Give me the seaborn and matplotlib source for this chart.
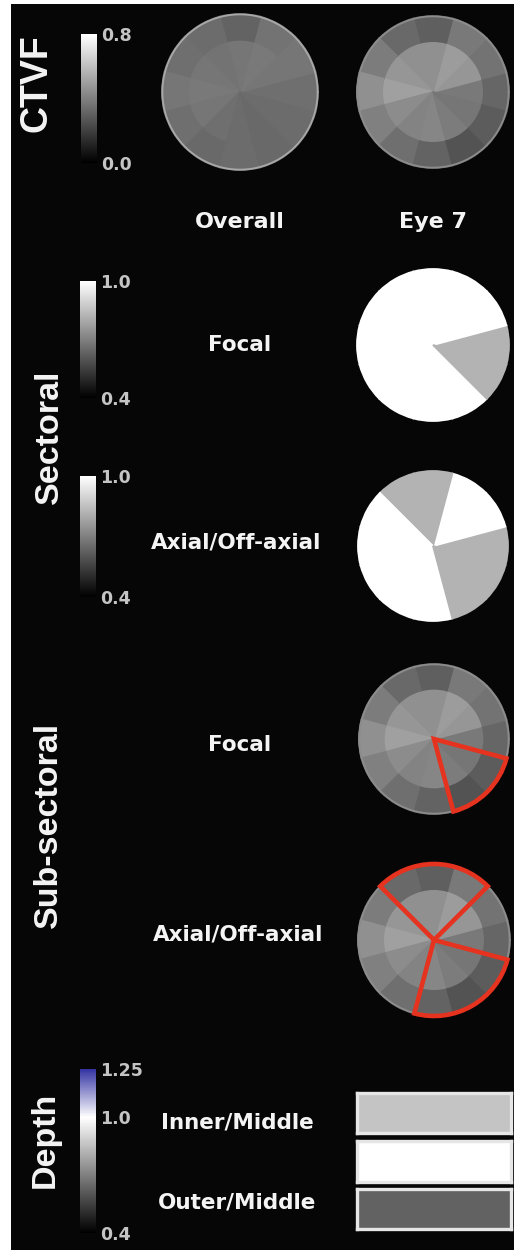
import numpy as np
import matplotlib
matplotlib.use("Agg")
import matplotlib.pyplot as plt
from matplotlib.colors import LinearSegmentedColormap, Normalize
import matplotlib.cm as cm
import seaborn as sns

sns.set_theme(style="white")
plt.rcParams["font.family"] = ["DejaVu Sans"]

# ---------------------------------------------------------------- data
# sector centres in degrees (counter-clockwise, 0 = right)
sector_angles = [0, 30, 60, 90, 120, 150, 180, 210, 240, 270, 300, 330]

# CTVF maps (inner disc / outer ring), one value per sector
overall_inner = [0.35, 0.37, 0.38, 0.37, 0.36, 0.37, 0.38, 0.37, 0.35, 0.34, 0.33, 0.34]
overall_outer = [0.35, 0.37, 0.36, 0.31, 0.34, 0.35, 0.37, 0.35, 0.33, 0.34, 0.33, 0.34]
eye7_inner = [0.38, 0.47, 0.49, 0.45, 0.45, 0.47, 0.50, 0.44, 0.41, 0.42, 0.39, 0.37]
eye7_outer = [0.32, 0.36, 0.38, 0.30, 0.33, 0.39, 0.45, 0.40, 0.35, 0.31, 0.26, 0.29]

# sectoral uniformity indices
sectoral_focal = [0.82, 1.0, 1.0, 1.0, 1.0, 1.0, 1.0, 1.0, 1.0, 1.0, 1.0, 0.82]
sectoral_axial = [0.82, 1.0, 1.0, 0.82, 0.82, 1.0, 1.0, 1.0, 1.0, 1.0, 0.82, 0.82]

# highlighted sub-sector groups (sector centres)
focal_groups = [[300, 330]]
axial_groups = [[60, 90, 120], [270, 300, 330]]

# depth ratios
depth_labels = ["Inner/Middle", "Outer/Middle"]
depth_values = [0.86, 1.0, 0.63]

# ---------------------------------------------------------------- figure
W, H = 514, 1250
fig = plt.figure(figsize=(W / 100, H / 100), dpi=100)
fig.patch.set_facecolor("white")


def box(x, y, w, h):
    return [x / W, 1 - (y + h) / H, w / W, h / H]


def label(x, y, s, **kw):
    fig.text(x / W, 1 - y / H, s, ha="center", va="center", color="#f4f4f4", **kw)


bg = fig.add_axes(box(11, 4, 503, 1246))
bg.set_facecolor("#060606")
bg.set_xticks([])
bg.set_yticks([])
for sp in bg.spines.values():
    sp.set_visible(False)

gray = plt.get_cmap("gray")
ctvf_norm = Normalize(0.0, 0.8)
sect_norm = Normalize(0.4, 1.0)
depth_cmap = LinearSegmentedColormap.from_list(
    "depth", [(0.0, "#000000"), (0.6 / 0.85, "#ffffff"), (1.0, "#3434a4")])

theta = np.deg2rad(sector_angles)
wedge = np.deg2rad(30)
RMAX = 1.08  # radial headroom so outlines at r=1 are not clipped


def polar_axes(cx, cy, r):
    R = r * RMAX
    ax = fig.add_axes(box(cx - R, cy - R, 2 * R, 2 * R), projection="polar")
    ax.set_facecolor("none")
    ax.set_ylim(0, RMAX)
    ax.axis("off")
    return ax


def ring_map(cx, cy, r, inner, outer, rim="#9a9a9a"):
    ax = polar_axes(cx, cy, r)
    ci = gray(ctvf_norm(np.array(inner)))
    co = gray(ctvf_norm(np.array(outer)))
    ax.bar(theta, 0.67, width=wedge, bottom=0, color=ci, edgecolor=ci, linewidth=1.3)
    ax.bar(theta, 0.33, width=wedge, bottom=0.67, color=co, edgecolor=co, linewidth=1.3)
    t = np.linspace(0, 2 * np.pi, 361)
    ax.plot(t, np.full_like(t, 0.995), color=rim, lw=1.3)
    return ax


def pie_map(cx, cy, r, values):
    ax = polar_axes(cx, cy, r)
    c = gray(sect_norm(np.array(values)))
    ax.bar(theta, 1.0, width=wedge, bottom=0, color=c, edgecolor=c, linewidth=1.3)
    return ax


def highlight(ax, groups):
    for g in groups:
        centre = np.deg2rad(np.mean(g))
        ax.bar(centre, 1.0, width=np.deg2rad(30 * len(g)), bottom=0, fill=False,
               edgecolor="#e5331f", linewidth=3.3, joinstyle="miter", zorder=4)


def colorbar(x, y, w, h, cmap, norm, ticks, texts):
    cax = fig.add_axes(box(x, y, w, h))
    cb = fig.colorbar(cm.ScalarMappable(norm=norm, cmap=cmap), cax=cax)
    cb.outline.set_visible(False)
    cb.set_ticks(ticks, labels=texts, fontweight="bold")
    cax.tick_params(length=0, pad=3, labelcolor="#c4c4c4", labelsize=12.5)
    return cb


# ---- CTVF row
label(36, 83, "CTVF", rotation=90, family="Liberation Sans", fontweight="bold", fontsize=27)
colorbar(81, 34, 16, 129, gray, ctvf_norm, [0.0, 0.8], ["0.0", "0.8"])
ring_map(240, 92, 78, overall_inner, overall_outer, rim="#a8a8a8")
ring_map(433, 92, 76, eye7_inner, eye7_outer, rim="#8c8c8c")
label(240, 222, "Overall", fontweight="bold", fontsize=16)
label(433, 222, "Eye 7", fontweight="bold", fontsize=16)

# ---- Sectoral rows
label(49, 437, "Sectoral", rotation=90, family="Liberation Sans", fontweight="bold", fontsize=24.5)
colorbar(80, 281, 16, 117, gray, sect_norm, [0.4, 1.0], ["0.4", "1.0"])
colorbar(80, 476, 16, 121, gray, sect_norm, [0.4, 1.0], ["0.4", "1.0"])
label(240, 345, "Focal", fontweight="bold", fontsize=15.5)
label(236, 543, "Axial/Off-axial", fontweight="bold", fontsize=15.5)
pie_map(433, 345, 76, sectoral_focal)
pie_map(433, 546, 75, sectoral_axial)

# ---- Sub-sectoral rows
label(48, 825, "Sub-sectoral", rotation=90, family="Liberation Sans", fontweight="bold", fontsize=24.5)
label(240, 745, "Focal", fontweight="bold", fontsize=15.5)
label(238, 934, "Axial/Off-axial", fontweight="bold", fontsize=15.5)
ax_f = ring_map(434, 739, 75, eye7_inner, eye7_outer, rim="#8c8c8c")
highlight(ax_f, focal_groups)
ax_a = ring_map(434, 940, 76, eye7_inner, eye7_outer, rim="#8c8c8c")
highlight(ax_a, axial_groups)

# ---- Depth rows
label(45, 1140, "Depth", rotation=90, family="Liberation Sans", fontweight="bold", fontsize=24.5)
depth_cax = fig.add_axes(box(80, 1069, 16, 164))
bar_boxes = [(357, 1093, 154, 40), (357, 1141, 154, 41), (357, 1189, 154, 40)]
depth_axes = []
for i, (v, bb) in enumerate(zip(depth_values, bar_boxes)):
    ax = fig.add_axes(box(*bb))
    sns.heatmap(np.array([[v]]), ax=ax, cmap=depth_cmap, vmin=0.4, vmax=1.25,
                cbar=(i == 0), cbar_ax=depth_cax if i == 0 else None,
                xticklabels=False, yticklabels=False)
    for sp in ax.spines.values():
        sp.set_visible(True)
        sp.set_color("#e6e6e6")
        sp.set_linewidth(2.4)
    depth_axes.append(ax)

depth_cbar = depth_axes[0].collections[0].colorbar
depth_cbar.outline.set_visible(False)
depth_cbar.set_ticks([0.4, 1.0, 1.25], labels=["0.4", "1.0", "1.25"], fontweight="bold")
depth_cax.tick_params(length=0, pad=3, labelcolor="#c4c4c4", labelsize=12.5)
label(237, 1123, depth_labels[0], fontweight="bold", fontsize=15.5)
label(237, 1202, depth_labels[1], fontweight="bold", fontsize=15.5)

fig.savefig("out.png", dpi=100, facecolor=fig.get_facecolor())
